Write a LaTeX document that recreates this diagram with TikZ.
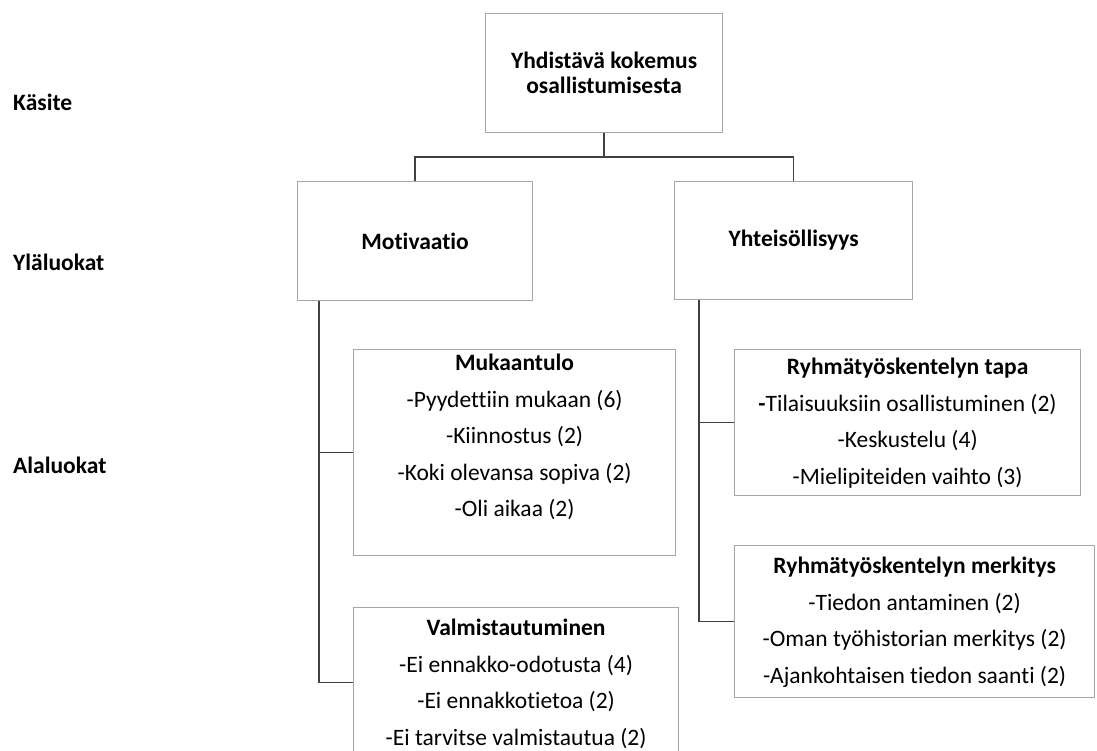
\documentclass[tikz,border=0pt]{standalone}
\usepackage{fontspec}
\setmainfont{Carlito}[Ligatures=CommonOff]
\usetikzlibrary{positioning}
\definecolor{boxgray}{HTML}{A6A6A6}
\definecolor{linegray}{HTML}{404040}

\begin{document}
\begin{tikzpicture}[x=1pt, y=-1pt,
    box/.style={draw=boxgray, line width=1.2pt, anchor=north west, inner sep=0pt, align=center},
    head/.style={font=\fontsize{23.5}{25}\selectfont\bfseries},
    items/.style={font=\fontsize{23.5}{36.5}\selectfont, align=center, inner sep=0pt},
    level/.style={font=\fontsize{23.5}{25}\selectfont\bfseries, anchor=base west, inner sep=0pt},
    link/.style={draw=linegray, line width=1.5pt},
]
    \useasboundingbox (0,0) rectangle (1097,751);
    \clip (0,0) rectangle (1097,751);

    % tasot
    \node[level] (taso1) at (13,111) {Käsite};
    \node[level] (taso2) at (13,271) {Yläluokat};
    \node[level] (taso3) at (13,473) {Alaluokat};

    % kasite ja ylaluokat
    \node[box, head, minimum width=237pt, minimum height=119pt] (kasite) at (485,13) {Yhdistävä kokemus\\osallistumisesta};
    \node[box, head, minimum width=235pt, minimum height=119pt] (motiv) at (297,181) {Motivaatio};
    \node[box, head, minimum width=238pt, minimum height=118pt] (yht) at (674,181) {Yhteisöllisyys};

    % alaluokat
    \node[box, minimum width=322pt, minimum height=206pt] (mukaan) at (353,349) {};
    \node[box, minimum width=325pt, minimum height=150pt] (valm) at (353,607) {};
    \node[box, minimum width=346pt, minimum height=146pt] (tapa) at (734,349) {};
    \node[box, minimum width=360pt, minimum height=152pt] (merk) at (734,545) {};

    \node[items, below=5pt of mukaan.north] (mukaan-txt) {\textbf{Mukaantulo}\\
        -Pyydettiin mukaan (6)\\-Kiinnostus (2)\\-Koki olevansa sopiva (2)\\-Oli aikaa (2)};
    \node[items, below=12pt of valm.north] (valm-txt) {\textbf{Valmistautuminen}\\
        -Ei ennakko-odotusta (4)\\-Ei ennakkotietoa (2)\\-Ei tarvitse valmistautua (2)};
    \node[items, below=9pt of tapa.north] (tapa-txt) {\textbf{Ryhmätyöskentelyn tapa}\\
        \textbf{-}Tilaisuuksiin osallistuminen (2)\\-Keskustelu (4)\\-Mielipiteiden vaihto (3)};
    \node[items, below=12pt of merk.north] (merk-txt) {\textbf{Ryhmätyöskentelyn merkitys}\\
        -Tiedon antaminen (2)\\-Oman työhistorian merkitys (2)\\-Ajankohtaisen tiedon saanti (2)};

    % yhdysviivat
    \coordinate[below=24pt of kasite.south] (haara);
    \coordinate (ltrunk) at ([xshift=22pt]motiv.south west);
    \coordinate (rtrunk) at ([xshift=25pt]yht.south west);
    \draw[link] (kasite.south) -- (haara);
    \draw[link] (motiv.north) |- (haara) -| (yht.north);
    \draw[link] (ltrunk) |- (valm.west);
    \draw[link] (ltrunk |- mukaan.west) -- (mukaan.west);
    \draw[link] (rtrunk) |- (merk.west);
    \draw[link] (rtrunk |- tapa.west) -- (tapa.west);
\end{tikzpicture}
\end{document}
